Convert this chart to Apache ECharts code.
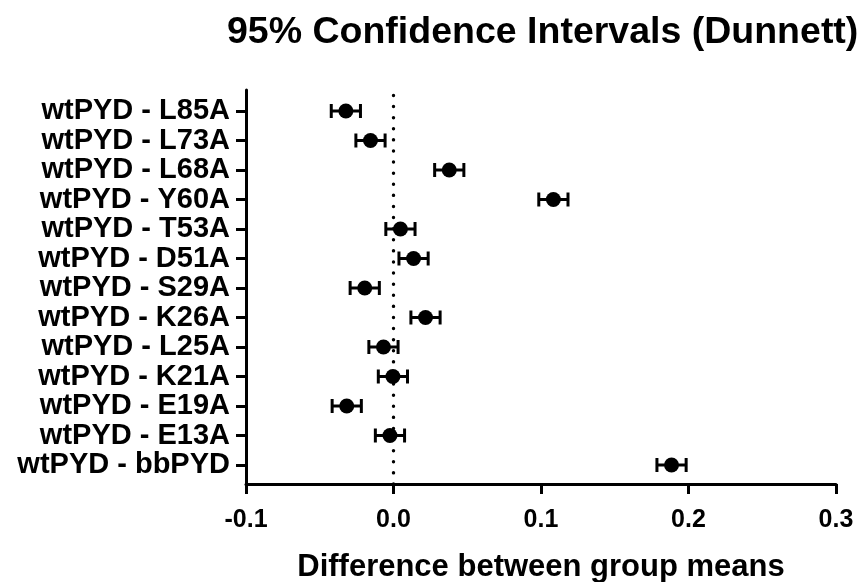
<!DOCTYPE html>
<html>
<head>
<meta charset="utf-8">
<script src="https://cdn.jsdelivr.net/npm/echarts@6/dist/echarts.min.js"></script>
<style>
  html, body { margin: 0; padding: 0; background: #fff; }
  #chart { width: 865px; height: 582px; }
</style>
</head>
<body>
<div id="chart"></div>
<script>
// Dunnett comparisons, listed top to bottom
const comparisons = [
  'wtPYD - L85A', 'wtPYD - L73A', 'wtPYD - L68A', 'wtPYD - Y60A',
  'wtPYD - T53A', 'wtPYD - D51A', 'wtPYD - S29A', 'wtPYD - K26A',
  'wtPYD - L25A', 'wtPYD - K21A', 'wtPYD - E19A', 'wtPYD - E13A',
  'wtPYD - bbPYD'
];
// Difference between group means
const meanDiff = [
  -0.0323, -0.0156, 0.0378, 0.1084,
  0.0047, 0.0136, -0.0195, 0.0217,
  -0.0068, -0.0004, -0.0317, -0.0024,
  0.1885
];
// 95% CI bounds
const ciLower = [
  -0.0422, -0.0255, 0.0279, 0.0985,
  -0.0052, 0.0037, -0.0294, 0.0118,
  -0.0167, -0.0103, -0.0416, -0.0123,
  0.1786
];
const ciUpper = [
  -0.0224, -0.0057, 0.0477, 0.1183,
  0.0146, 0.0235, -0.0096, 0.0316,
  0.0031, 0.0095, -0.0218, 0.0075,
  0.1984
];
const xTicks = { min: -0.1, max: 0.3, step: 0.1 };

const FONT = '"Liberation Sans", Arial, Helvetica, sans-serif';
const chart = echarts.init(document.getElementById('chart'), null, { renderer: 'canvas' });

const pointData = comparisons.map((c, i) => [meanDiff[i], c]);
const ciData = comparisons.map((c, i) => [ciLower[i], ciUpper[i], c]);

chart.setOption({
  animation: false,
  backgroundColor: '#ffffff',
  title: {
    text: '95% Confidence Intervals (Dunnett)',
    left: 222,
    top: 9,
    textStyle: { fontFamily: FONT, fontSize: 37.5, fontWeight: 'bold', color: '#000' }
  },
  grid: [
    // frame: axis lines and the zero reference
    { left: 246, right: 29, top: 90, height: 394, outerBoundsMode: 'none', containLabel: false },
    // comparison rows
    { left: 246, right: 29, top: 111, height: 354, outerBoundsMode: 'none', containLabel: false }
  ],
  xAxis: [
    {
      gridIndex: 0,
      type: 'value',
      min: xTicks.min, max: xTicks.max, interval: xTicks.step,
      axisLine: { show: true, onZero: false, lineStyle: { color: '#000', width: 3 } },
      axisTick: { show: true, inside: false, length: 10, lineStyle: { color: '#000', width: 3 } },
      axisLabel: {
        margin: 24, color: '#000', fontFamily: FONT, fontSize: 25, fontWeight: 'bold',
        formatter: v => v.toFixed(1)
      },
      splitLine: { show: false },
      name: 'Difference between group means',
      nameLocation: 'middle',
      nameGap: 68,
      nameTextStyle: { fontFamily: FONT, fontSize: 31, fontWeight: 'bold', color: '#000' }
    },
    {
      gridIndex: 1,
      type: 'value',
      min: xTicks.min, max: xTicks.max,
      show: false
    }
  ],
  yAxis: [
    {
      gridIndex: 0,
      type: 'value',
      min: 0, max: 1,
      axisLine: { show: true, onZero: false, lineStyle: { color: '#000', width: 3 } },
      axisTick: { show: false },
      axisLabel: { show: false },
      splitLine: { show: false }
    },
    {
      gridIndex: 1,
      type: 'category',
      data: comparisons,
      inverse: true,
      boundaryGap: false,
      axisLine: { show: false, onZero: false },
      axisTick: { show: true, interval: 0, length: 10, lineStyle: { color: '#000', width: 3 } },
      axisLabel: {
        interval: 0, margin: 16, color: '#000', fontFamily: FONT, fontSize: 29, fontWeight: 'bold'
      },
      splitLine: { show: false }
    }
  ],
  series: [
    {
      // dotted zero line
      type: 'line',
      xAxisIndex: 0, yAxisIndex: 0,
      data: [],
      z: 1,
      markLine: {
        silent: true,
        symbol: 'none',
        label: { show: false },
        lineStyle: { color: '#000', width: 3.4, type: [0.1, 11], cap: 'round' },
        emphasis: { disabled: true },
        data: [{ xAxis: 0 }]
      }
    },
    {
      // CI whiskers with end caps
      type: 'custom',
      xAxisIndex: 1, yAxisIndex: 1,
      data: ciData,
      z: 3,
      renderItem: function (params, api) {
        const lo = api.coord([api.value(0), api.value(2)]);
        const hi = api.coord([api.value(1), api.value(2)]);
        const cap = 7;
        const style = { stroke: '#000', lineWidth: 3, fill: null };
        return {
          type: 'group',
          children: [
            { type: 'line', shape: { x1: lo[0], y1: lo[1], x2: hi[0], y2: hi[1] }, style },
            { type: 'line', shape: { x1: lo[0], y1: lo[1] - cap, x2: lo[0], y2: lo[1] + cap }, style },
            { type: 'line', shape: { x1: hi[0], y1: hi[1] - cap, x2: hi[0], y2: hi[1] + cap }, style }
          ]
        };
      },
      encode: { x: [0, 1], y: 2 }
    },
    {
      type: 'scatter',
      xAxisIndex: 1, yAxisIndex: 1,
      data: pointData,
      symbol: 'circle',
      symbolSize: 15,
      itemStyle: { color: '#000', opacity: 1 },
      z: 4
    }
  ]
});
</script>
</body>
</html>
